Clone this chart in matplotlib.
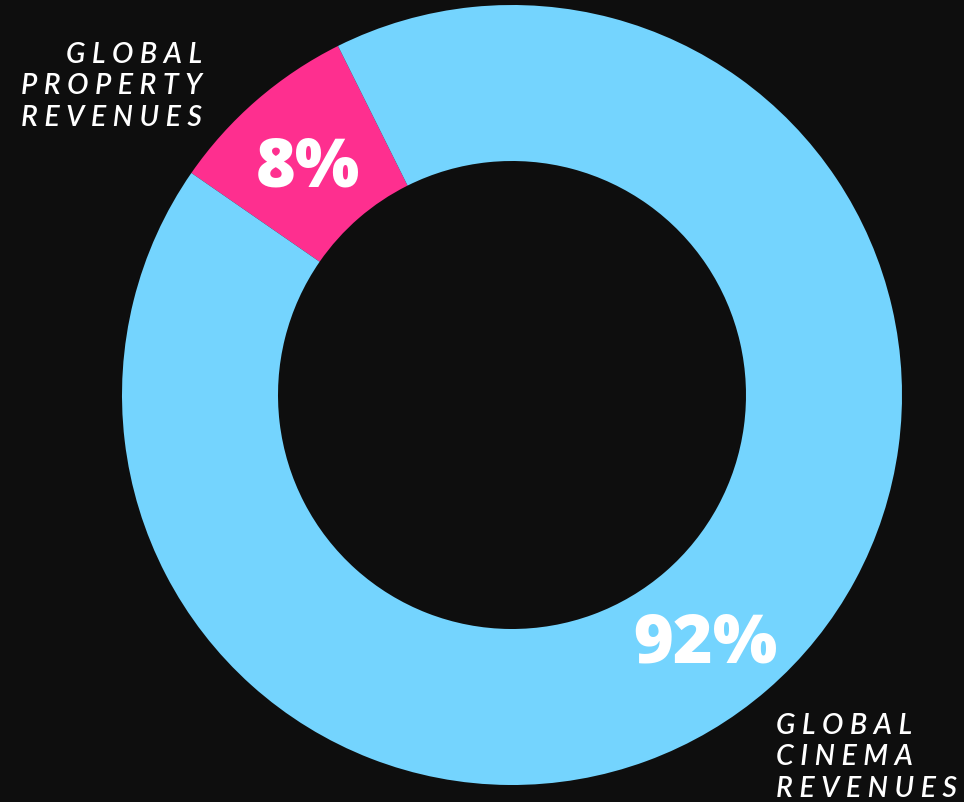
import matplotlib.pyplot as plt

# data
labels = ["GLOBAL PROPERTY REVENUES", "GLOBAL CINEMA REVENUES"]
shares = [8, 92]
pct_text = ["8%", "92%"]
colors = ["#fe2f8f", "#74d4fe"]

BG = "#0e0e0e"
W, H = 964, 803


def spaced(s):
    return " ".join(s)


def main():
    fig = plt.figure(figsize=(W / 100, H / 100), dpi=100, facecolor=BG)
    ax = fig.add_axes([0, 0, 1, 1])
    ax.set_facecolor(BG)

    # y axis is inverted below, so counterclock=False still turns the
    # wedges counter-clockwise on screen
    ax.pie(shares, colors=colors, center=(512, 396), radius=390,
           startangle=-116.5, counterclock=False,
           wedgeprops=dict(width=156, linewidth=0),
           frame=True)
    ax.set_xlim(0, W)
    ax.set_ylim(H, 0)
    ax.set_aspect("auto")
    ax.axis("off")

    num_kw = dict(ha="center", va="center", color="white",
                  fontsize=49, fontweight=800, family="Open Sans")
    ax.text(308, 169, pct_text[0], **num_kw)
    ax.text(705, 645, pct_text[1], **num_kw)

    lab_kw = dict(color="white", fontsize=20.5, style="italic",
                  fontweight="semibold", family="Lato", va="center")
    for i, line in enumerate(["GLOBAL", "PROPERTY", "REVENUES"]):
        ax.text(202, 55 + 31.5 * i, spaced(line), ha="right", **lab_kw)
    for i, line in enumerate(["GLOBAL", "CINEMA", "REVENUES"]):
        ax.text(776, 726 + 31.5 * i, spaced(line), ha="left", **lab_kw)

    fig.savefig("out.png", dpi=100, facecolor=BG)


if __name__ == "__main__":
    main()
